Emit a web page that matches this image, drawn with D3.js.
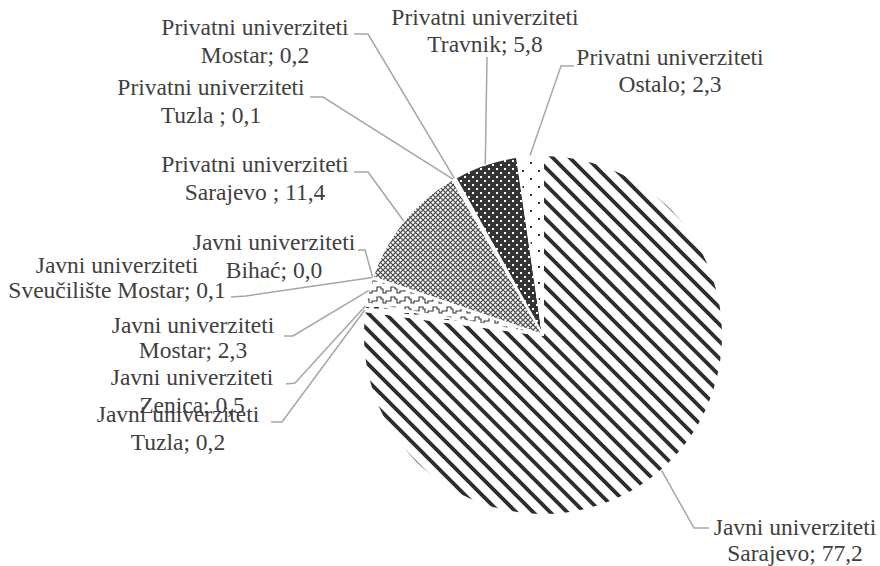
<!DOCTYPE html>
<html>
<head>
<meta charset="utf-8">
<script src="https://cdn.jsdelivr.net/npm/d3@7/dist/d3.min.js"></script>
<style>
  html, body { margin: 0; padding: 0; background: #fff; }
  svg { display: block; }
  text { font-family: "Liberation Serif", "Times New Roman", serif; fill: #404040; }
</style>
</head>
<body>
<svg id="chart" width="880" height="566"></svg>
<script>
// Slices in drawing order (clockwise from 12 o'clock)
const groups = [
  "Javni univerziteti", "Javni univerziteti", "Javni univerziteti", "Javni univerziteti",
  "Javni univerziteti", "Javni univerziteti",
  "Privatni univerziteti", "Privatni univerziteti", "Privatni univerziteti",
  "Privatni univerziteti", "Privatni univerziteti"
];
const places = [
  "Sarajevo", "Tuzla", "Zenica", "Mostar", "Sveučilište Mostar", "Bihać",
  "Sarajevo ", "Tuzla ", "Mostar", "Travnik", "Ostalo"
];
const values = [77.2, 0.2, 0.5, 2.3, 0.1, 0.0, 11.4, 0.1, 0.2, 5.8, 2.3];
const fills = [
  "url(#pStripe)", "url(#pDash)", "url(#pDash)", "url(#pWave)", "url(#pDash)", "url(#pDash)",
  "url(#pTrellis)", "url(#pSparse)", "url(#pTrellis)", "url(#pDots)", "url(#pSparse)"
];

// Label layout: text centre, first baseline, line gap, leader start and elbow
const labelLayout = [
  { cx: 795, y: 535, gap: 26, start: [709, 528], elbow: [694, 528] },
  { cx: 178, y: 422, gap: 28, start: [271, 422], elbow: [282, 422] },
  { cx: 192, y: 385, gap: 28, start: [286, 384], elbow: [295, 383] },
  { cx: 193, y: 333, gap: 25, start: [284, 336], elbow: [293, 336] },
  { cx: 117, y: 273, gap: 25, start: [231, 297], elbow: [246, 296] },
  { cx: 274, y: 250, gap: 28, start: [358, 250], elbow: [365, 250] },
  { cx: 255, y: 172, gap: 28, start: [354, 172], elbow: [368, 172] },
  { cx: 211, y: 95,  gap: 28, start: [310, 97],  elbow: [323, 97] },
  { cx: 255, y: 35,  gap: 28, start: [354, 34],  elbow: [368, 34] },
  { cx: 485, y: 25,  gap: 27, start: [487, 57],  elbow: [487, 57] },
  { cx: 670, y: 65,  gap: 27, start: [574, 66],  elbow: [561, 66] }
];

const cx = 543, cy = 335, R = 180;

const svg = d3.select("#chart");
const defs = svg.append("defs");

// Wide downward diagonal stripes
const stripe = defs.append("pattern").attr("id", "pStripe")
  .attr("patternUnits", "userSpaceOnUse").attr("width", 17).attr("height", 17);
stripe.append("rect").attr("width", 17).attr("height", 17).attr("fill", "#fff");
stripe.append("path").attr("d", "M-2,-2L19,19M-6,11L6,23M11,-6L23,6")
  .attr("stroke", "#2e2e2e").attr("stroke-width", 3.8);

// Small diagonal trellis
const trellis = defs.append("pattern").attr("id", "pTrellis")
  .attr("patternUnits", "userSpaceOnUse").attr("width", 5).attr("height", 5);
trellis.append("rect").attr("width", 5).attr("height", 5).attr("fill", "#fff");
trellis.append("path").attr("d", "M0,0L5,5M5,0L0,5")
  .attr("stroke", "#444").attr("stroke-width", 1.2);

// White dots on dark ground
const dots = defs.append("pattern").attr("id", "pDots")
  .attr("patternUnits", "userSpaceOnUse").attr("width", 8).attr("height", 8);
dots.append("rect").attr("width", 8).attr("height", 8).attr("fill", "#333");
dots.append("rect").attr("x", 1).attr("y", 1).attr("width", 2).attr("height", 2).attr("fill", "#fff");
dots.append("rect").attr("x", 5).attr("y", 5).attr("width", 2).attr("height", 2).attr("fill", "#fff");

// Sparse dark dots on white
const sparse = defs.append("pattern").attr("id", "pSparse")
  .attr("patternUnits", "userSpaceOnUse").attr("width", 16).attr("height", 16);
sparse.append("rect").attr("width", 16).attr("height", 16).attr("fill", "#fff");
sparse.append("rect").attr("x", 3).attr("y", 3).attr("width", 2).attr("height", 2).attr("fill", "#333");
sparse.append("rect").attr("x", 11).attr("y", 11).attr("width", 2).attr("height", 2).attr("fill", "#333");

// Wave outline
const wave = defs.append("pattern").attr("id", "pWave")
  .attr("patternUnits", "userSpaceOnUse").attr("width", 14).attr("height", 10);
wave.append("rect").attr("width", 14).attr("height", 10).attr("fill", "#fff");
wave.append("path").attr("d", "M0,6 L2,6 L2,2 L6,2 L6,4 L8,4 L8,8 L11,8 L11,6 L14,6")
  .attr("fill", "none").attr("stroke", "#333").attr("stroke-width", 1.1);

// Short dashes
const dash = defs.append("pattern").attr("id", "pDash")
  .attr("patternUnits", "userSpaceOnUse").attr("width", 10).attr("height", 6);
dash.append("rect").attr("width", 10).attr("height", 6).attr("fill", "#fff");
dash.append("rect").attr("x", 1).attr("y", 2).attr("width", 5).attr("height", 1.5).attr("fill", "#333");

const data = values.map((v, i) => ({ i, group: groups[i], place: places[i], value: v }));

const pie = d3.pie().sort(null).value(d => d.value)
  .startAngle(0).endAngle(2 * Math.PI);
const arcs = pie(data);

const arc = d3.arc().innerRadius(0).outerRadius(R);

const g = svg.append("g").attr("transform", `translate(${cx},${cy})`);

g.selectAll("path.slice")
  .data(arcs)
  .join("path")
  .attr("class", "slice")
  .attr("d", arc)
  .attr("fill", d => fills[d.data.i])
  .attr("stroke", "#fff")
  .attr("stroke-width", 2)
  .attr("stroke-linejoin", "round");

const fmt = v => d3.format(".1f")(v).replace(".", ",");

// Leader lines from each label to the slice edge
const edgePoint = d => {
  const a = (d.startAngle + d.endAngle) / 2;
  return [cx + R * Math.sin(a), cy - R * Math.cos(a)];
};

svg.append("g").selectAll("path.leader")
  .data(arcs)
  .join("path")
  .attr("class", "leader")
  .attr("d", d => {
    const L = labelLayout[d.data.i];
    return d3.line()([L.start, L.elbow, edgePoint(d)]);
  })
  .attr("fill", "none")
  .attr("stroke", "#a6a6a6")
  .attr("stroke-width", 1.5);

// Two-line data labels: series group, then place and value
const labels = svg.append("g").selectAll("text.lbl")
  .data(arcs)
  .join("text")
  .attr("class", "lbl")
  .attr("text-anchor", "middle")
  .attr("font-size", 23.5);

labels.append("tspan")
  .attr("x", d => labelLayout[d.data.i].cx)
  .attr("y", d => labelLayout[d.data.i].y)
  .text(d => d.data.group);
labels.append("tspan")
  .attr("x", d => labelLayout[d.data.i].cx)
  .attr("y", d => labelLayout[d.data.i].y + labelLayout[d.data.i].gap)
  .text(d => `${d.data.place}; ${fmt(d.data.value)}`);
</script>
</body>
</html>
